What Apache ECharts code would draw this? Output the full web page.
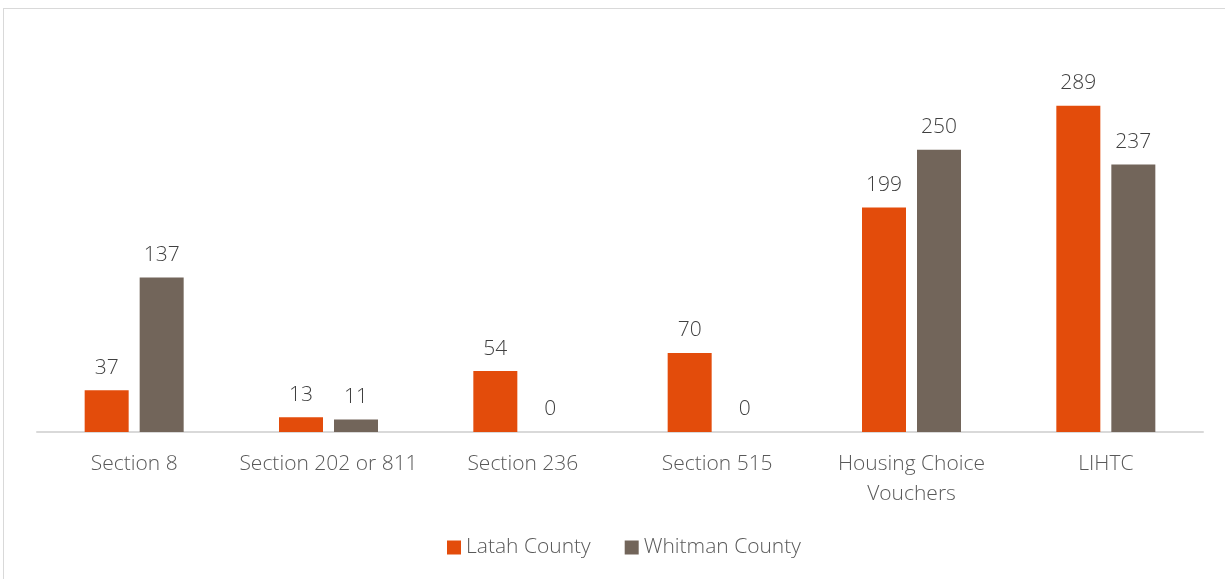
<!DOCTYPE html>
<html><head><meta charset="utf-8">
<script src="https://cdn.jsdelivr.net/npm/echarts@6/dist/echarts.min.js"></script>
<style>
html,body{margin:0;padding:0;background:#fff;}
#frame{position:absolute;left:3px;top:8px;width:1240px;height:600px;border:1px solid #d9d9d9;box-sizing:border-box;}
#c{position:absolute;left:0;top:0;width:1225px;height:579px;}
</style></head><body>
<div id="frame"></div>
<div id="c"></div>
<script>
const categories = ['Section 8','Section 202 or 811','Section 236','Section 515','Housing Choice\nVouchers','LIHTC'];
const latah = [37,13,54,70,199,289];
const whitman = [137,11,0,0,250,237];
const seriesNames = ['Latah County','Whitman County'];

const chart = echarts.init(document.getElementById('c'));
const font = '"Open Sans", "Noto Sans", sans-serif';
const lbl = {show:true,position:'top',distance:12,color:'#404040',fontSize:21,fontWeight:300,fontFamily:font};
chart.setOption({
  animation:false,
  grid:{left:37,right:22,top:37,bottom:147,containLabel:false},
  legend:{bottom:16,left:442,itemWidth:14,itemHeight:14,itemGap:34,icon:'rect',
    textStyle:{color:'#595959',fontSize:21,fontWeight:300,fontFamily:font}},
  xAxis:{type:'category',data:categories,
    axisLine:{lineStyle:{color:'#d9d9d9',width:2}},axisTick:{show:false},
    axisLabel:{color:'#595959',fontSize:21,fontWeight:300,fontFamily:font,margin:17,lineHeight:30,interval:0}},
  yAxis:{type:'value',min:0,max:350,show:false,splitLine:{show:false}},
  series:[
    {name:seriesNames[0],type:'bar',data:latah,barWidth:44,barGap:'25%',itemStyle:{color:'#e34c0b'},label:lbl},
    {name:seriesNames[1],type:'bar',data:whitman,barWidth:44,itemStyle:{color:'#72655a'},label:lbl}
  ]
});
</script></body></html>
